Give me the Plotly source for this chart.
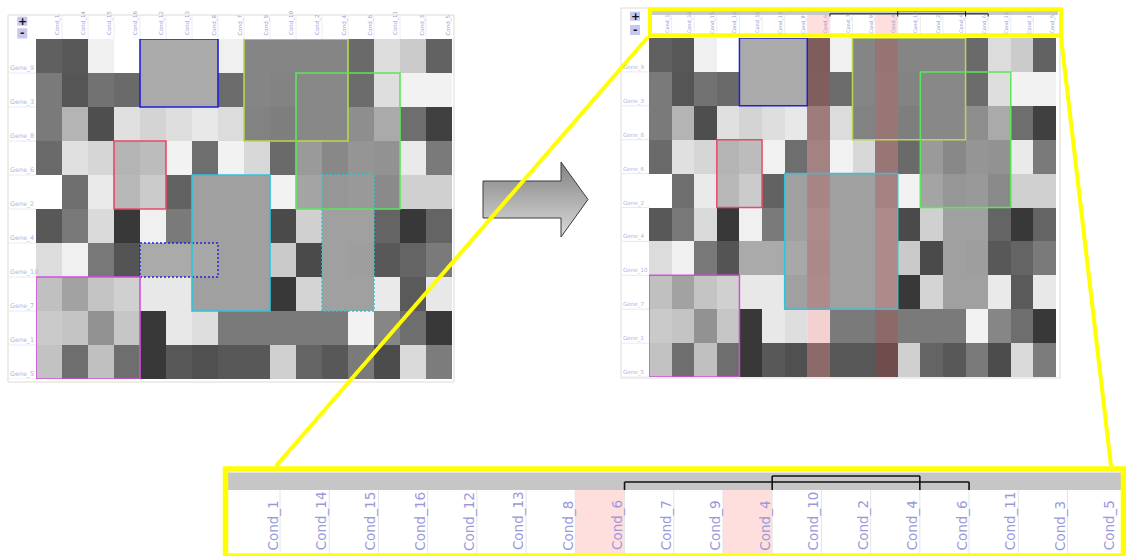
import plotly.graph_objects as go

W, H = 1126, 556

GENES = ["Gene_9", "Gene_3", "Gene_8", "Gene_6", "Gene_2",
         "Gene_4", "Gene_10", "Gene_7", "Gene_1", "Gene_5"]
CONDITIONS = ["Cond_1", "Cond_14", "Cond_15", "Cond_16", "Cond_12", "Cond_13",
              "Cond_8", "Cond_7", "Cond_9", "Cond_10", "Cond_2", "Cond_4",
              "Cond_6", "Cond_11", "Cond_3", "Cond_5"]

# expression shown as gray level per cell (0 = black, 255 = white), one list per gene
GENE_9 = [96, 88, 240, 255, 170, 170, 170, 240, 133, 133, 133, 133, 106, 220, 203, 98]
GENE_3 = [122, 85, 114, 106, 170, 170, 170, 108, 133, 131, 136, 136, 108, 222, 242, 242]
GENE_8 = [122, 180, 78, 224, 212, 222, 232, 220, 130, 126, 136, 136, 142, 170, 110, 64]
GENE_6 = [106, 224, 214, 180, 188, 242, 110, 242, 216, 106, 154, 136, 149, 146, 234, 122]
GENE_2 = [255, 110, 234, 184, 203, 98, 160, 160, 160, 242, 164, 150, 153, 138, 208, 208]
GENE_4 = [88, 120, 218, 56, 240, 122, 160, 160, 160, 74, 208, 160, 160, 100, 56, 100]
GENE_10 = [220, 240, 120, 84, 170, 170, 168, 160, 160, 202, 74, 160, 158, 88, 100, 122]
GENE_7 = [192, 162, 196, 208, 232, 232, 160, 160, 160, 56, 212, 160, 160, 234, 90, 232]
GENE_1 = [202, 196, 146, 198, 56, 232, 222, 122, 122, 122, 122, 122, 242, 134, 110, 56]
GENE_5 = [194, 110, 192, 110, 56, 88, 80, 88, 88, 208, 100, 88, 122, 76, 218, 124]
VALUES = [GENE_9, GENE_3, GENE_8, GENE_6, GENE_2, GENE_4, GENE_10, GENE_7, GENE_1, GENE_5]

# conditions repeated in the reordered view: (condition, placed right after)
COPIES = [("Cond_6", "Cond_8"), ("Cond_4", "Cond_9")]

# biclusters: outline colour, member genes, member conditions
BICLUSTERS = [
    ("#2020d8", ["Gene_9", "Gene_3", "Gene_10"], ["Cond_12", "Cond_13", "Cond_8"]),
    ("#b6d94e", ["Gene_9", "Gene_3", "Gene_8"], ["Cond_9", "Cond_10", "Cond_2", "Cond_4"]),
    ("#5ae65a", ["Gene_3", "Gene_8", "Gene_6", "Gene_2"], ["Cond_2", "Cond_4", "Cond_6", "Cond_11"]),
    ("#e84a64", ["Gene_6", "Gene_2"], ["Cond_16", "Cond_12"]),
    ("#2ec4dc", ["Gene_2", "Gene_4", "Gene_10", "Gene_7"], ["Cond_8", "Cond_7", "Cond_9", "Cond_4", "Cond_6"]),
    ("#d050dc", ["Gene_7", "Gene_1", "Gene_5"], ["Cond_1", "Cond_14", "Cond_15", "Cond_16"]),
]

# ---- derived: reordered view with copied conditions -------------------------
ORDER2, COPY_FLAG = [], []
for c in CONDITIONS:
    ORDER2.append(c)
    COPY_FLAG.append(0)
    for name, after in COPIES:
        if after == c:
            ORDER2.append(name)
            COPY_FLAG.append(1)
VALUES2 = [[row[CONDITIONS.index(c)] for c in ORDER2] for row in VALUES]


def px(x):
    return x / W


def py(y):
    return 1 - y / H


def runs(idx):
    idx = sorted(set(idx))
    out, cur = [], [idx[0]]
    for i in idx[1:]:
        if i == cur[-1] + 1:
            cur.append(i)
        else:
            out.append(cur)
            cur = [i]
    out.append(cur)
    return sorted(out, key=len, reverse=True)


GRAY = [[0, "rgb(0,0,0)"], [1, "rgb(255,255,255)"]]
FONT = "DejaVu Sans"
LABEL = "#9c9cd8"
ROWLAB = "#b2b2e4"
TINT = "rgba(255,16,16,0.14)"

fig = go.Figure()
fig.add_trace(go.Heatmap(z=VALUES, x=list(range(len(CONDITIONS))), y=list(range(len(GENES))),
                         colorscale=GRAY, zmin=0, zmax=255, showscale=False,
                         xaxis="x", yaxis="y", hoverinfo="skip"))
fig.add_trace(go.Heatmap(z=VALUES2, x=list(range(len(ORDER2))), y=list(range(len(GENES))),
                         colorscale=GRAY, zmin=0, zmax=255, showscale=False,
                         xaxis="x2", yaxis="y2", hoverinfo="skip"))
HEAD = [[0, "#ffffff"], [1, "#ffdede"]]
fig.add_trace(go.Heatmap(z=[COPY_FLAG], x=list(range(len(ORDER2))), y=[0],
                         colorscale=HEAD, zmin=0, zmax=1, showscale=False,
                         xaxis="x2", yaxis="y4", hoverinfo="skip"))
fig.add_trace(go.Heatmap(z=[COPY_FLAG], x=list(range(len(ORDER2))), y=[0],
                         colorscale=HEAD, zmin=0, zmax=1, showscale=False,
                         xaxis="x3", yaxis="y3", hoverinfo="skip"))

# gray arrow between the two views
AX = [483, 561, 561, 588, 561, 561, 483, 483]
AY = [181, 181, 162, 199.5, 237, 218, 218, 181]
fig.add_trace(go.Scatter(x=AX, y=[H - v for v in AY], mode="lines", fill="toself",
                         line=dict(color="#3c3c3c", width=1),
                         fillgradient=dict(type="vertical",
                                           colorscale=[[0, "#dadada"], [1, "#828282"]],
                                           start=H - 237, stop=H - 162),
                         xaxis="x5", yaxis="y5", hoverinfo="skip", showlegend=False))

n1, n2 = len(CONDITIONS), len(ORDER2)
hid = dict(visible=False, fixedrange=True)
fig.update_layout(
    width=W, height=H, margin=dict(l=0, r=0, t=0, b=0),
    paper_bgcolor="white", plot_bgcolor="rgba(0,0,0,0)", showlegend=False,
    xaxis=dict(domain=[px(36), px(452)], range=[-0.5, n1 - 0.5], anchor="y", **hid),
    yaxis=dict(domain=[py(379), py(39)], range=[len(GENES) - 0.5, -0.5], anchor="x", **hid),
    xaxis2=dict(domain=[px(649), px(1056)], range=[-0.5, n2 - 0.5], anchor="y2", **hid),
    yaxis2=dict(domain=[py(377), py(38)], range=[len(GENES) - 0.5, -0.5], anchor="x2", **hid),
    yaxis4=dict(domain=[py(36), py(15)], range=[-0.5, 0.5], anchor="x2", **hid),
    xaxis3=dict(domain=[px(230.8), px(1116.7)], range=[-0.5, n2 - 0.5], anchor="y3", **hid),
    yaxis3=dict(domain=[py(553), py(490)], range=[-0.5, 0.5], anchor="x3", **hid),
    xaxis5=dict(domain=[px(470), px(600)], range=[470, 600], anchor="y5", **hid),
    yaxis5=dict(domain=[py(250), py(150)], range=[H - 250, H - 150], anchor="x5", **hid),
)

shapes, ann = [], []


def rect(x0, y0, x1, y1, **kw):
    shapes.append(dict(type="rect", xref="paper", yref="paper",
                       x0=px(x0), x1=px(x1), y0=py(y0), y1=py(y1), **kw))


def seg(x0, y0, x1, y1, color, width, xref="paper"):
    sx0, sx1 = (px(x0), px(x1)) if xref == "paper" else (x0, x1)
    shapes.append(dict(type="line", xref=xref, yref="paper", x0=sx0, x1=sx1,
                       y0=py(y0), y1=py(y1), line=dict(color=color, width=width)))


# panel frames
rect(8, 15, 454, 382, line=dict(color="#e0d8d0", width=1))
rect(621, 8, 1060, 378, line=dict(color="#e0dcd8", width=1))

# zoom buttons
for (bx, by1, by2) in [(17.3, 16.7, 25.7), (630, 11.7, 20.7)]:
    rect(bx, by1, bx + 10, by2, fillcolor="#c8c8ee", line=dict(width=0))
for (bx, by1, by2) in [(17.3, 28.3, 38.5), (630, 25, 35)]:
    rect(bx, by1, bx + 10, by2, fillcolor="#c8c8ee", line=dict(width=0))
for (bx, yp, ym) in [(22.3, 21.2, 33), (635, 16.2, 29.5)]:
    ann.append(dict(xref="paper", yref="paper", x=px(bx), y=py(yp), text="<b>+</b>",
                    showarrow=False, font=dict(family=FONT, size=11, color="#111"),
                    xanchor="center", yanchor="middle"))
    ann.append(dict(xref="paper", yref="paper", x=px(bx), y=py(ym), text="<b>-</b>",
                    showarrow=False, font=dict(family=FONT, size=11, color="#111"),
                    xanchor="center", yanchor="middle"))

# header column separators
for i in range(n1 - 1):
    seg(i + 0.5, 14, i + 0.5, 39, "#ededed", 1, xref="x")
for i in range(n2 - 1):
    seg(i + 0.5, 15, i + 0.5, 36, "#ececec", 1, xref="x2")
    seg(i + 0.5, 490, i + 0.5, 553, "#e4e4e4", 1, xref="x3")

# gray bars above the reordered headers
rect(649, 10, 1058, 15, fillcolor="#c8c8c8", line=dict(width=0))
rect(228, 472.5, 1121, 490, fillcolor="#c6c6c6", line=dict(width=0))

# row label guide lines
for r in range(len(GENES)):
    shapes.append(dict(type="line", xref="paper", yref="y", x0=px(9), x1=px(36),
                       y0=r + 0.5, y1=r + 0.5, line=dict(color="#e8e8f4", width=1)))
    shapes.append(dict(type="line", xref="paper", yref="y2", x0=px(622), x1=px(649),
                       y0=r + 0.5, y1=r + 0.5, line=dict(color="#e8e8f4", width=1)))

# tint over the copied columns in the reordered heatmap
for i, f in enumerate(COPY_FLAG):
    if f:
        shapes.append(dict(type="rect", xref="x2", yref="y2", x0=i - 0.5, x1=i + 0.5,
                           y0=-0.5, y1=len(GENES) - 0.5, fillcolor=TINT,
                           line=dict(width=0), layer="above"))

# bicluster outlines
for color, genes, conds in BICLUSTERS:
    rrun = runs([GENES.index(g) for g in genes])
    crun = runs([CONDITIONS.index(c) for c in conds])
    for a, rr in enumerate(rrun):
        for b, cr in enumerate(crun):
            solid = a == 0 and b == 0
            shapes.append(dict(type="rect", xref="x", yref="y",
                               x0=cr[0] - 0.5, x1=cr[-1] + 0.5, y0=rr[0] - 0.5, y1=rr[-1] + 0.5,
                               line=dict(color=color, width=1.6 if solid else 1.4,
                                         dash="solid" if solid else "2px,2px")))
    crun2 = runs([i for i, c in enumerate(ORDER2) if c in conds])
    cr, rr = crun2[0], rrun[0]
    shapes.append(dict(type="rect", xref="x2", yref="y2",
                       x0=cr[0] - 0.5, x1=cr[-1] + 0.5, y0=rr[0] - 0.5, y1=rr[-1] + 0.5,
                       line=dict(color=color, width=1.5)))

# brackets joining each copied condition with its original column
for level, (name, _) in enumerate(COPIES):
    pos = [i for i, c in enumerate(ORDER2) if c == name]
    a, b = min(pos) + 0.5, max(pos) + 0.5
    top, bot = 13.8 - 3 * level, 16.5
    seg(a, bot, a, top, "#111", 1, xref="x2")
    seg(a, top, b, top, "#111", 1, xref="x2")
    seg(b, top, b, bot, "#111", 1, xref="x2")
    top, bot = 482 - 6 * level, 490
    seg(a, bot, a, top, "#111", 1.6, xref="x3")
    seg(a, top, b, top, "#111", 1.6, xref="x3")
    seg(b, top, b, bot, "#111", 1.6, xref="x3")

# magnifier outlines
YEL = "#ffff00"
seg(648, 37, 276, 466, YEL, 4)
seg(1061, 37, 1111, 466, YEL, 4)
rect(650, 9.3, 1061, 35.3, line=dict(color=YEL, width=4))
rect(225.5, 469, 1123.5, 556, line=dict(color=YEL, width=5.5))

# labels
for i, c in enumerate(CONDITIONS):
    ann.append(dict(xref="x", yref="paper", x=i + 0.5, y=py(37.5), text=c, textangle=-90,
                    showarrow=False, xanchor="right", yanchor="bottom", xshift=1,
                    font=dict(family=FONT, size=5.5, color=LABEL)))
for i, c in enumerate(ORDER2):
    ann.append(dict(xref="x2", yref="paper", x=i + 0.5, y=py(35.5), text=c, textangle=-90,
                    showarrow=False, xanchor="right", yanchor="bottom", xshift=1,
                    font=dict(family=FONT, size=5, color=LABEL)))
    ann.append(dict(xref="x3", yref="paper", x=i + 0.5, y=py(552.5), text=c, textangle=-90,
                    showarrow=False, xanchor="right", yanchor="bottom", xshift=2,
                    font=dict(family=FONT, size=13.5, color="#9a9ad8")))
for r, g in enumerate(GENES):
    ann.append(dict(xref="paper", yref="y", x=px(7.5), y=r + 0.5, text=g,
                    showarrow=False, xanchor="left", yanchor="bottom", yshift=-1,
                    font=dict(family=FONT, size=6.4, color=ROWLAB)))
    ann.append(dict(xref="paper", yref="y2", x=px(620.5), y=r + 0.5, text=g,
                    showarrow=False, xanchor="left", yanchor="bottom", yshift=-1,
                    font=dict(family=FONT, size=5.6, color=ROWLAB)))

fig.update_layout(shapes=shapes, annotations=ann)
fig.write_html("out.html", config={"displayModeBar": False})
